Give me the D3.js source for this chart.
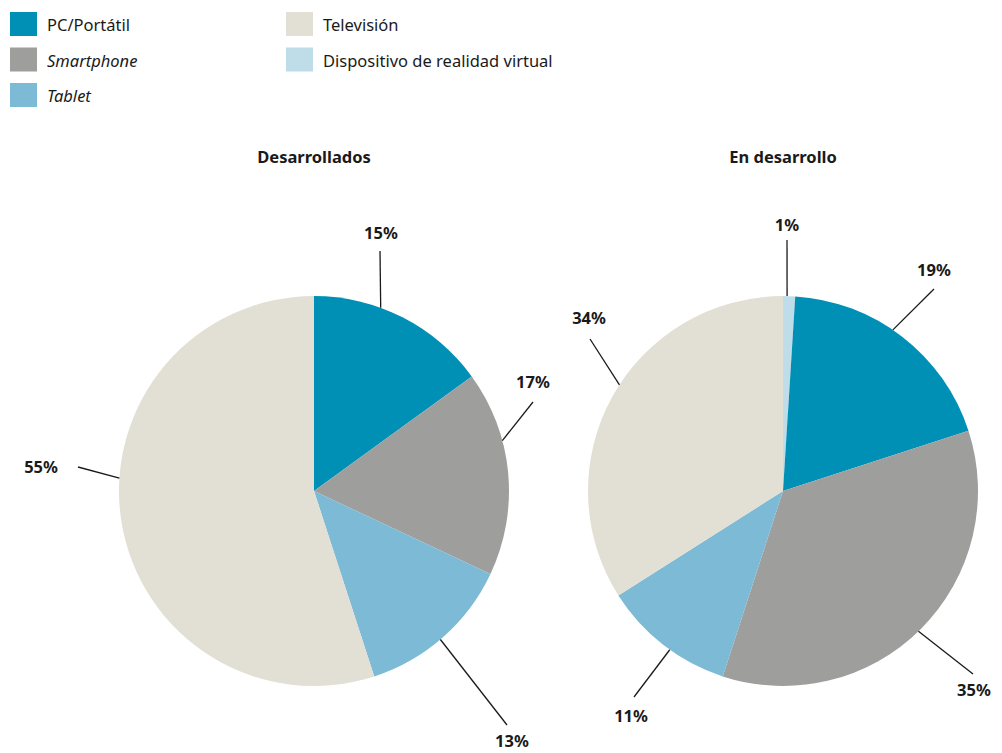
<!DOCTYPE html>
<html>
<head>
    <meta charset="utf-8" />
    <title>Dispositivos</title>
    <script src="https://d3js.org/d3.v7.min.js"></script>
    <style>
        body { margin: 0; background: #fff; }
        svg text { font-family: "Noto Sans", "Open Sans", sans-serif; fill: #1a1a1a; }
    </style>
</head>
<body>
    <svg id="chart"></svg>
    <script>
        // Data
        const devices = ["Dispositivo de realidad virtual", "PC/Portátil", "Smartphone", "Tablet", "Televisión"];
        const groups = ["Desarrollados", "En desarrollo"];
        const desarrollados = [0, 15, 17, 13, 55];
        const enDesarrollo = [1, 19, 35, 11, 34];

        // legend order (two columns)
        const legendOrder = ["PC/Portátil", "Smartphone", "Tablet", "Televisión", "Dispositivo de realidad virtual"];
        const italicNames = ["Smartphone", "Tablet"];

        const colors = d3.scaleOrdinal()
            .domain(devices)
            .range(["#bfdce9", "#0090b6", "#9e9e9d", "#7dbad5", "#e2dfd4"]);

        // hand placed leader lines: angle on arc (deg), line end and label centre relative to pie centre
        const labelLayout = [
            { "PC/Portátil": [20, 66, -240, 67, -259],
              "Smartphone": [75, 219, -89, 219, -110],
              "Tablet": [139.6, 193, 234, 198, 249],
              "Televisión": [273.8, -236, -24, -273, -25] },
            { "Dispositivo de realidad virtual": [1.2, 4, -251, 4, -267],
              "PC/Portátil": [34.3, 151, -202, 151, -222],
              "Smartphone": [136, 190, 183, 191, 198],
              "Tablet": [215.5, -149, 206, -152, 224],
              "Televisión": [303, -193, -152, -194, -174] }
        ];

        const width = 1002, height = 753;
        const radius = 195;

        const svg = d3.select("#chart")
            .attr("width", width)
            .attr("height", height);

        // Legend
        const legend = svg.append("g").attr("class", "legend");
        legendOrder.forEach(function (name, i) {
            const col = i < 3 ? 0 : 1;
            const row = i < 3 ? i : i - 3;
            const g = legend.append("g")
                .attr("transform", "translate(" + (10 + col * 276) + "," + (12 + row * 35.5) + ")");
            g.append("rect")
                .attr("width", 27)
                .attr("height", 24)
                .attr("fill", colors(name));
            g.append("text")
                .attr("x", 37)
                .attr("y", 12.5)
                .attr("dominant-baseline", "central")
                .style("font-size", "16.5px")
                .style("font-style", italicNames.includes(name) ? "italic" : "normal")
                .text(name);
        });

        const cx = d3.scalePoint().domain(groups).range([314, 783]);
        const cy = 491;

        const pie = d3.pie().sort(null).value(d => d.value);
        const arc = d3.arc().innerRadius(0).outerRadius(radius);

        const series = [desarrollados, enDesarrollo];

        function onArc(deg) {
            const a = deg * Math.PI / 180;
            return [radius * Math.sin(a), -radius * Math.cos(a)];
        }

        groups.forEach(function (grp, gi) {
            const rows = devices.map((d, i) => ({ name: d, value: series[gi][i] }));
            const g = svg.append("g")
                .attr("transform", "translate(" + cx(grp) + "," + cy + ")");

            g.append("text")
                .attr("x", 0)
                .attr("y", -335)
                .attr("text-anchor", "middle")
                .attr("dominant-baseline", "central")
                .style("font-size", "16.5px")
                .style("font-weight", "bold")
                .text(grp);

            g.selectAll("path")
                .data(pie(rows).filter(d => d.data.value > 0))
                .enter()
                .append("path")
                .attr("d", arc)
                .attr("fill", d => colors(d.data.name));

            rows.filter(d => d.value > 0).forEach(function (d) {
                const l = labelLayout[gi][d.name];
                const p = onArc(l[0]);
                g.append("line")
                    .attr("x1", p[0]).attr("y1", p[1])
                    .attr("x2", l[1]).attr("y2", l[2])
                    .attr("stroke", "#1a1a1a")
                    .attr("stroke-width", 1.3);
                g.append("text")
                    .attr("x", l[3])
                    .attr("y", l[4])
                    .attr("text-anchor", "middle")
                    .attr("dominant-baseline", "central")
                    .style("font-size", "16.5px")
                    .style("font-weight", "bold")
                    .text(d.value + "%");
            });
        });
    </script>
</body>
</html>
